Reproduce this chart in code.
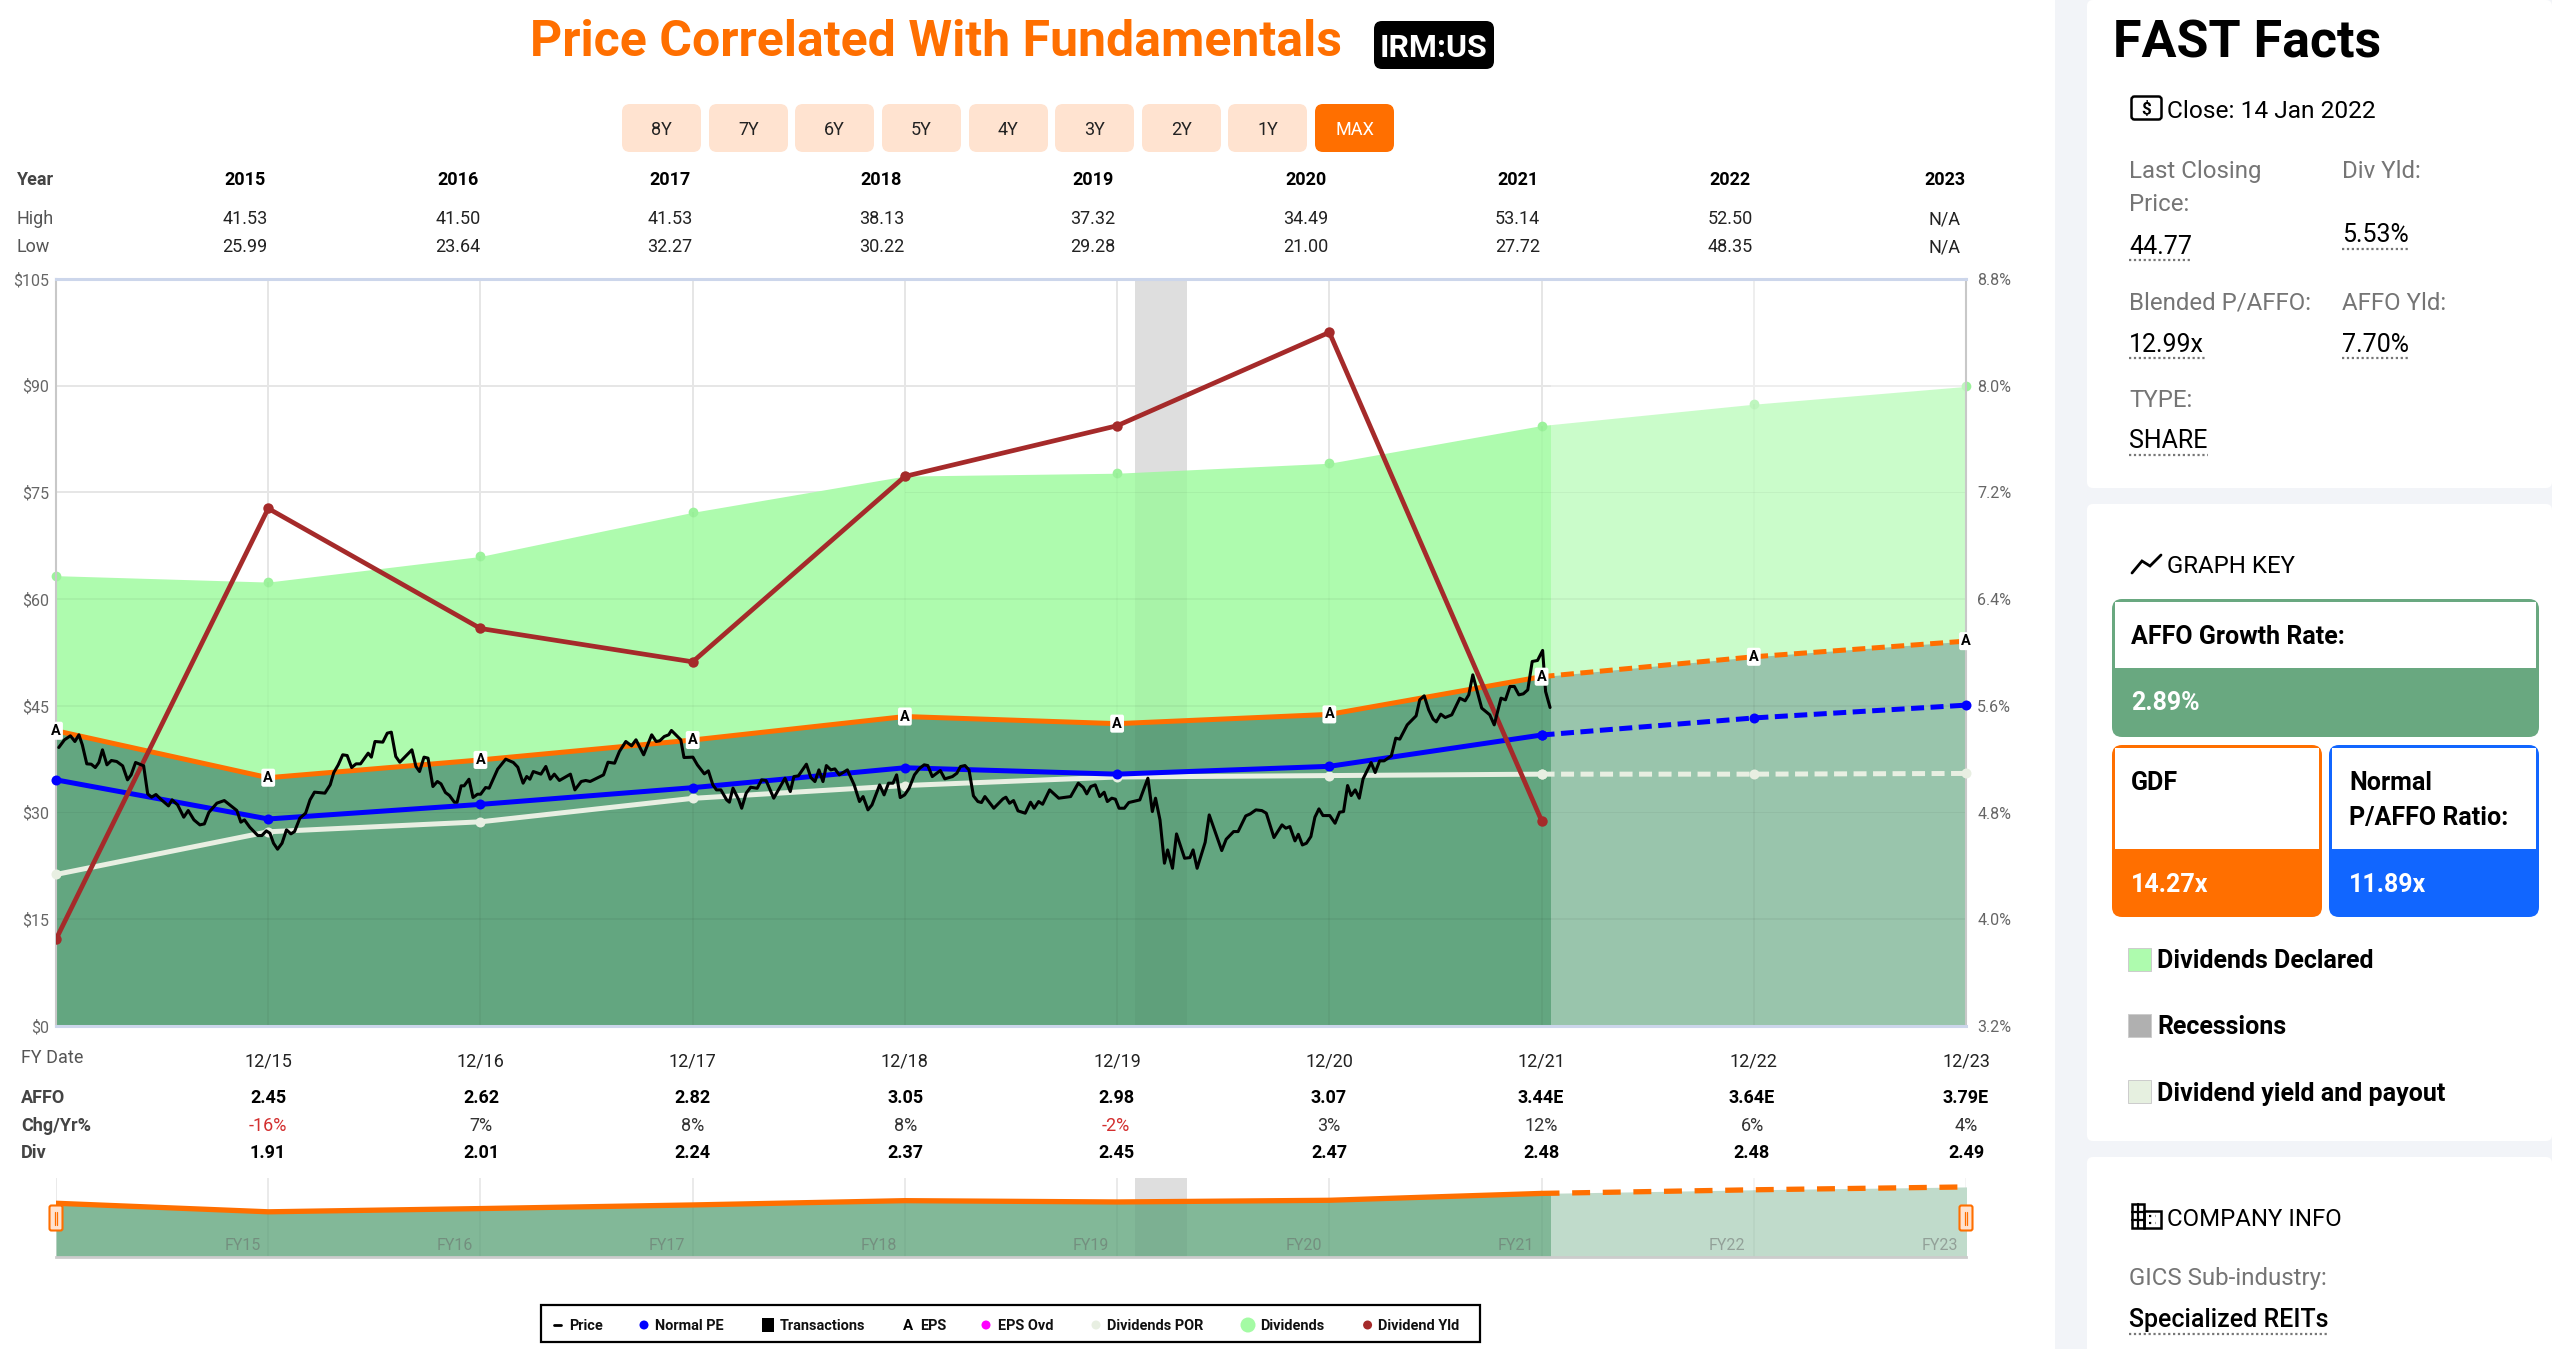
import matplotlib
matplotlib.use("Agg")
import matplotlib.pyplot as plt
from matplotlib.patches import Rectangle, FancyBboxPatch, Circle
import numpy as np, pandas as pd, seaborn as sns

# ---------- data ----------
years = ['2015','2016','2017','2018','2019','2020','2021','2022','2023']
highs = ['41.53','41.50','41.53','38.13','37.32','34.49','53.14','52.50','N/A']
lows  = ['25.99','23.64','32.27','30.22','29.28','21.00','27.72','48.35','N/A']
ranges = ['8Y','7Y','6Y','5Y','4Y','3Y','2Y','1Y','MAX']
fy_dates = ['12/15','12/16','12/17','12/18','12/19','12/20','12/21','12/22','12/23']
affo_txt = ['2.45','2.62','2.82','3.05','2.98','3.07','3.44E','3.64E','3.79E']
chg_txt  = ['-16%','7%','8%','8%','-2%','3%','12%','6%','4%']
div_txt  = ['1.91','2.01','2.24','2.37','2.45','2.47','2.48','2.48','2.49']
fy_short = ['FY15','FY16','FY17','FY18','FY19','FY20','FY21','FY22','FY23']

fy_t = [0,1,2,3,4,5,6,7,8,9]
dividends = [63.3,62.4,66.0,72.2,77.3,77.7,79.1,84.4,87.4,89.9]
gdf_line  = [41.5,34.9,37.4,40.2,43.5,42.5,43.8,49.1,51.9,54.1]
normal    = [34.6,29.1,31.15,33.5,36.3,35.4,36.5,40.9,43.3,45.1]
por       = [21.3,27.3,28.7,32.0,33.8,35.0,35.2,35.4,35.4,35.5]
yield_t   = [0,1,2,3,4,5,6,7]
div_yield = [3.85,7.08,6.18,5.93,7.32,7.70,8.40,4.74]
close_t = 7.045
last_actual_t = 7
recession = (5.085, 5.33)

price_t = [.013,.040,.068,.089,.108,.124,.145,.166,.185,.202,.219,.240,.261,.286,.314,.337,.354,.375,.413,.432,.450,.471,.497,.530,.547,.573,.602,.623,.650,.678,.699,.720,.758,.793,.819,.852,.871,.888,.913,.951,.970,.991,
1.008,1.025,1.044,1.065,1.086,1.107,1.124,1.149,1.176,1.197,1.218,1.267,1.292,1.309,1.330,1.351,1.372,1.393,1.414,1.435,1.471,1.486,1.503,1.540,1.561,1.580,1.601,1.620,1.677,1.696,1.713,1.734,1.753,1.776,1.797,1.814,1.835,1.854,1.877,1.890,1.909,1.923,1.946,1.965,1.986,
2.001,2.024,2.041,2.081,2.119,2.155,2.176,2.201,2.218,2.233,2.249,2.285,2.308,2.329,2.348,2.372,2.424,2.445,2.475,2.496,2.517,2.580,2.601,2.632,2.655,2.685,2.712,2.733,2.769,2.807,2.828,2.845,2.866,2.887,2.900,2.944,2.959,
3.001,3.022,3.055,3.074,3.095,3.112,3.133,3.160,3.173,3.190,3.217,3.231,3.252,3.273,3.304,3.325,3.346,3.382,3.435,3.460,3.477,3.498,3.536,3.557,3.576,3.595,3.614,3.630,3.651,3.670,3.691,3.729,3.761,3.786,3.803,3.826,3.845,3.881,3.902,3.923,3.944,3.961,3.978,3.999,
4.020,4.045,4.070,4.091,4.108,4.129,4.167,4.188,4.224,4.245,4.262,4.283,4.302,4.323,4.344,4.361,4.377,4.419,4.462,4.476,4.493,4.512,4.533,4.567,4.592,4.609,4.630,4.649,4.682,4.725,4.781,4.817,4.840,4.857,4.876,4.897,4.918,4.939,4.954,4.975,4.992,
5.009,5.034,5.055,5.107,5.145,5.166,5.181,5.202,5.223,5.238,5.261,5.280,5.318,5.343,5.358,5.377,5.415,5.434,5.493,5.514,5.549,5.570,5.606,5.627,5.654,5.682,5.703,5.739,5.777,5.795,5.814,5.838,5.854,5.873,5.892,5.913,5.932,5.951,5.970,
6.002,6.027,6.048,6.067,6.086,6.103,6.122,6.141,6.159,6.197,6.216,6.237,6.258,6.292,6.313,6.332,6.367,6.409,6.426,6.447,6.468,6.489,6.504,6.525,6.546,6.577,6.615,6.640,6.657,6.676,6.697,6.718,6.756,6.777,6.809,6.830,6.851,6.872,6.893,6.914,6.935,6.956,6.981,7.005,7.019,7.040]
price_v = [39.15,40.23,40.79,39.99,40.93,39.52,36.85,36.80,36.33,37.04,38.82,36.71,37.32,37.18,36.57,34.60,35.30,37.04,36.57,32.63,32.16,32.54,31.79,30.94,31.79,31.08,29.35,30.29,28.97,28.27,28.41,30.01,31.32,31.69,31.08,30.29,28.65,28.97,27.94,26.77,26.77,27.43,
27.10,25.69,24.85,25.69,27.57,27.01,27.33,29.21,29.91,31.79,32.87,32.73,33.90,35.63,36.71,38.12,38.02,36.33,36.85,36.85,38.35,37.79,39.99,39.90,41.16,41.30,37.88,37.08,38.82,36.48,35.77,37.79,37.65,33.66,34.37,34.04,32.82,32.40,31.46,31.46,33.76,33.76,34.69,32.12,32.58,
32.58,33.52,33.43,36.10,37.51,37.04,36.38,34.13,35.07,34.69,35.77,35.40,36.48,34.69,35.40,34.51,35.40,33.19,34.37,34.51,34.37,35.30,37.08,36.94,38.59,39.99,39.38,40.23,38.12,40.93,39.99,40.09,40.69,40.93,41.54,40.23,37.74,
37.79,36.71,35.44,35.87,33.90,33.19,33.19,31.79,31.46,33.43,31.79,30.61,32.72,33.56,33.42,34.60,34.50,32.02,34.83,32.96,35.06,35.16,36.80,34.92,34.36,36.00,34.36,36.61,36.00,36.14,35.30,36.00,33.89,31.55,32.25,30.38,31.08,33.89,32.49,34.13,34.13,35.30,32.11,32.49,
33.42,35.30,36.24,36.71,36.61,35.06,35.91,34.74,35.06,35.53,36.47,36.61,36.00,32.35,31.55,31.41,32.25,30.61,31.92,32.16,31.31,31.69,30.24,29.91,31.46,30.61,31.55,31.17,33.19,32.02,32.25,34.13,33.56,32.63,33.66,33.89,32.25,32.86,31.55,32.02,31.88,
30.61,30.61,31.41,31.78,34.83,30.14,32.02,28.97,22.88,24.75,22.17,27.00,23.58,23.67,24.75,22.17,25.83,29.67,24.66,26.25,27.33,27.33,29.53,29.81,30.38,30.28,29.91,26.49,28.27,27.80,28.03,26.02,26.95,25.45,25.69,26.63,29.35,30.52,29.58,
29.58,28.50,30.05,30.14,33.80,32.39,33.19,32.02,34.74,37.03,35.63,37.27,37.27,37.97,40.46,40.32,42.33,43.60,45.85,46.41,44.44,43.13,42.75,43.83,43.36,43.74,46.08,45.71,46.55,49.36,47.02,44.68,43.74,42.33,46.08,45.85,47.72,47.72,46.55,46.69,47.25,51.24,51.38,52.79,47.02,44.77]

usd_ticks = [0,15,30,45,60,75,90,105]
pct_ticks = [3.2,4.0,4.8,5.6,6.4,7.2,8.0,8.8]

legend_items = ['Price','Normal PE','Transactions','EPS','EPS Ovd','Dividends POR','Dividends','Dividend Yld']

# ---------- style ----------
ORANGE='#FF6F00'; BLUE='#0000FF'; PALE='#E8EFE2'; BROWN='#A52A2A'
LGREEN='#AEFBAE'; DGREEN='#63A680'; AXC='#CCD6EB'; SBLUE='#1166FF'; KGREEN='#69A880'; PANEL='#F2F4F8'
sns.set_theme(style='white')
plt.rcParams['font.family'] = ['Roboto','DejaVu Sans']
W,H = 2552,1349
PT = 0.72
fig = plt.figure(figsize=(W/100,H/100),dpi=100,facecolor='white')

def axpx(l,t,r,b,**k):
    return fig.add_axes([l/W,1-b/H,(r-l)/W,(b-t)/H],**k)

pg = fig.add_axes([0,0,1,1],zorder=0); pg.set_xlim(0,W); pg.set_ylim(H,0); pg.axis('off')

def T(x,y,s,px,weight='normal',color='black',ha='left',tgt=None,**k):
    return (tgt or pg).text(x,y,s,fontsize=px*PT,fontweight=weight,color=color,ha=ha,va='center_baseline',**k)
def R(x0,y0,x1,y1,fc,ec='none',lw=0,rad=0,**k):
    if rad:
        p=FancyBboxPatch((x0+rad,y0+rad),x1-x0-2*rad,y1-y0-2*rad,boxstyle=f'round,pad={rad},rounding_size={rad}',fc=fc,ec=ec,lw=lw,**k)
    else:
        p=Rectangle((x0,y0),x1-x0,y1-y0,fc=fc,ec=ec,lw=lw,**k)
    pg.add_patch(p); return p
def dotted(x0,x1,y):
    pg.plot([x0,x1],[y,y],color='#777777',lw=1.6,ls=(0,(1,1.2)),dash_capstyle='butt')

# ---------- header ----------
T(936,38,'Price Correlated With Fundamentals',50,'bold',ORANGE,ha='center')
R(1374,21,1494,69,'black',rad=8)
T(1434,45,'IRM:US',32,'bold','white',ha='center')
btn_x = [622,709,795,882,969,1055,1142,1228,1315]
for x,lab in zip(btn_x,ranges):
    act = lab=='MAX'
    R(x,104,x+79,152,ORANGE if act else '#FFE3D0',rad=8)
    T(x+39.5,128,lab,18,color='white' if act else '#222222',ha='center')
col_top = [245,458,670,881.5,1093,1306,1517.5,1730,1945]
T(17,178,'Year',18,'bold','#444444'); T(17,217,'High',18,color='#555555'); T(17,245,'Low',18,color='#555555')
for x,y,h,l in zip(col_top,years,highs,lows):
    T(x,178,y,18,'bold',ha='center'); T(x,217,h,18,color='#222222',ha='center'); T(x,245,l,18,color='#222222',ha='center')

# ---------- main chart ----------
ax = axpx(56,279,1966,1026,zorder=2)
ax.set_facecolor('none')
ax.set_xlim(0,9); ax.set_ylim(0,105)
ax.axvspan(*recession,color='#E6E6E6',lw=0,zorder=.9)
ax.fill_between(fy_t,dividends,color=LGREEN,lw=0,zorder=1)
ax.fill_between(fy_t,gdf_line,color=DGREEN,lw=0,zorder=1.1)
ax.axvspan(close_t,9,color='white',alpha=.35,lw=0,zorder=1.2)
ax.fill_between(recession,[105,105],color='black',alpha=.03,lw=0,zorder=1.3)
ax.set_yticks(usd_ticks); ax.set_yticklabels([f'${v}' for v in usd_ticks])
ax.set_xticks(fy_t); ax.set_xticklabels(['']+fy_dates)
ax.grid(True,color='#E6E6E6',lw=1.4)
for gl in ax.get_xgridlines()+ax.get_ygridlines(): gl.set_zorder(.8)
ax.set_axisbelow(True)
ax.vlines(fy_t[1:-1],0,gdf_line[1:-1],color='black',alpha=.04,lw=1.4,zorder=1.4)
ax.vlines(fy_t[1:-1],gdf_line[1:-1],dividends[1:-1],color='black',alpha=.02,lw=1.4,zorder=1.4)
for v in usd_ticks[1:-1]:
    ax.fill_between(fy_t,v-.12,v+.12,where=[d>=v for d in dividends],interpolate=True,color='black',alpha=.045,lw=0,zorder=1.4)
ax.tick_params(axis='y',length=0,pad=5,labelsize=16*PT,labelcolor='#666666')
ax.tick_params(axis='x',length=11,width=1.5,color=AXC,pad=8,labelsize=18*PT,labelcolor='#222222')
for s,c,lw in [('top',AXC,2.2),('bottom',AXC,2.2),('left','#C8C8C8',1.5),('right','#C8C8C8',1.5)]:
    ax.spines[s].set_color(c); ax.spines[s].set_linewidth(lw); ax.spines[s].set_visible(True)

df = pd.DataFrame({'t':fy_t,'div':dividends,'gdf':gdf_line,'normal':normal,'por':por})
hist = df[df.t<=last_actual_t]; fut = df[df.t>=last_actual_t]
LINE = dict(estimator=None,errorbar=None,sort=False,legend=False)
sns.lineplot(data=df,x='t',y='div',ax=ax,lw=0,marker='o',ms=7,color='#9CF29C',mew=0,zorder=1.15,**LINE)
def seg(col,color,z,ms=7.2):
    sns.lineplot(data=hist,x='t',y=col,ax=ax,color=color,lw=3.6,marker='o',ms=ms,mew=0,zorder=z,**LINE)
    sns.lineplot(data=fut,x='t',y=col,ax=ax,color=color,lw=3.6,marker='o',ms=ms,mew=0,zorder=z,
                 linestyle=(0,(2.6,1.3)),dash_capstyle='butt',**LINE)
seg('por',PALE,3); seg('normal',BLUE,3.1); seg('gdf',ORANGE,3.2,ms=0)
for l in ax.lines: l.set_clip_on(False)
ax.set_xlabel(''); ax.set_ylabel('')

ax2 = ax.twinx(); ax2.set_zorder(3); ax2.set_facecolor('none')
ax2.set_ylim(3.2,8.8); ax2.set_yticks(pct_ticks); ax2.set_yticklabels([f'{v:.1f}%' for v in pct_ticks])
ax2.tick_params(axis='y',length=0,pad=8,labelsize=16*PT,labelcolor='#666666')
ydf = pd.DataFrame({'t':yield_t,'y':div_yield})
sns.lineplot(data=ydf,x='t',y='y',ax=ax2,color=BROWN,lw=3.4,marker='o',ms=7.5,mew=0,**LINE)
ax2.set_ylabel(''); ax2.grid(False)
for s in ax2.spines.values(): s.set_visible(False)

ax3 = ax.twinx(); ax3.set_zorder(4); ax3.set_facecolor('none')
ax3.set_ylim(0,105); ax3.set_yticks([]); ax3.grid(False); ax3.set_ylabel('')
for s in ax3.spines.values(): s.set_visible(False)
pdf = pd.DataFrame({'t':price_t,'v':price_v})
sns.lineplot(data=pdf,x='t',y='v',ax=ax3,color='black',lw=2.2,**LINE)
ax3.set_ylabel('')
for t,v in zip(fy_t,gdf_line):
    ax3.text(t,v,'A',fontsize=14.5*PT,fontweight='bold',color='black',ha='center',va='center',clip_on=False,
             bbox=dict(boxstyle='round,pad=0.14',fc='white',ec='none'))

# ---------- rows below chart ----------
col_x = [268,481,692.5,905.5,1116,1329,1541,1752,1966]
T(21,1056,'FY Date',18,color='#555555')
T(21,1096,'AFFO',18,'bold','#444444'); T(21,1124,'Chg/Yr%',18,'bold','#444444'); T(21,1151,'Div',18,'bold','#444444')
for x,a,c,d in zip(col_x,affo_txt,chg_txt,div_txt):
    T(x,1096,a,18,'bold',ha='center')
    T(x,1124,c,18,color='#D32F2F' if c.startswith('-') else '#333333',ha='center')
    T(x,1151,d,18,'bold',ha='center')

# ---------- navigator ----------
nav = axpx(56,1178,1966,1257,zorder=2)
nav.set_facecolor('none'); nav.set_xlim(0,9); nav.set_ylim(0,61)
nav.axvspan(*recession,color='#E8E8E8',lw=0,zorder=.9)
nav.fill_between(fy_t,gdf_line,color='#82B898',lw=0,zorder=1)
nav.axvspan(close_t,9,color='white',alpha=.5,lw=0,zorder=1.2)
nav.fill_between(recession,[61,61],color='black',alpha=.04,lw=0,zorder=1.3)
nav.set_xticks(fy_t); nav.set_xticklabels([]); nav.set_yticks([])
nav.grid(True,axis='x',color='#E6E6E6',lw=1.2)
for gl in nav.get_xgridlines(): gl.set_zorder(.8)
nav.set_axisbelow(True)
nav.vlines(fy_t[1:-1],0,gdf_line[1:-1],color='black',alpha=.04,lw=1.2,zorder=1.4)
nav.tick_params(axis='x',length=11,width=1.5,color=AXC)
for s in ['top','left','right']: nav.spines[s].set_visible(False)
nav.spines['bottom'].set_visible(True); nav.spines['bottom'].set_color('#CCCCCC'); nav.spines['bottom'].set_linewidth(2)
sns.lineplot(data=hist,x='t',y='gdf',ax=nav,color=ORANGE,lw=3.8,zorder=3,**LINE)
sns.lineplot(data=fut,x='t',y='gdf',ax=nav,color=ORANGE,lw=3.8,zorder=3,linestyle=(0,(3.4,2.4)),dash_capstyle='butt',**LINE)
nav.set_xlabel(''); nav.set_ylabel('')
hx = fig.add_axes([0,0,1,1],zorder=6); hx.set_xlim(0,W); hx.set_ylim(H,0); hx.axis('off'); hx.patch.set_alpha(0)
for x,l in zip([242.5,455,667,879,1091,1304,1515.5,1727,1940],fy_short):
    T(x,1244,l,16,color='#666666',ha='center',alpha=.5,tgt=hx)
for x in (56,1966):
    hx.add_patch(FancyBboxPatch((x-5,1207),10,22,boxstyle='round,pad=1.5,rounding_size=2',fc='#FFE3D0',ec=ORANGE,lw=1.5))
    hx.plot([x-1.3,x-1.3],[1212,1225],color=ORANGE,lw=.9); hx.plot([x+1.3,x+1.3],[1212,1225],color=ORANGE,lw=.9)

# ---------- bottom legend ----------
R(541,1305,1480,1342,'white',ec='black',lw=1.6)
leg_x = [569,655,780,920,998,1107,1260.5,1378.5]
for x,l in zip(leg_x,legend_items):
    T(x,1324,l,14.5,'bold',color='#111111')
pg.plot([554,561],[1325,1325],color='black',lw=2)
pg.add_patch(Circle((644,1325),4.5,fc=BLUE,ec='none'))
R(762,1318,774,1332,'black')
T(908,1324,'A',15,'bold',ha='center')
pg.add_patch(Circle((986,1325),4.5,fc='#FF00FF',ec='none'))
pg.add_patch(Circle((1096,1325),4.5,fc=PALE,ec='none'))
pg.add_patch(Circle((1248,1325),7.5,fc='#A4FBA4',ec='none'))
pg.add_patch(Circle((1367.6,1325),4.5,fc=BROWN,ec='none'))

# ---------- sidebar ----------
R(2055,0,W,H,PANEL)
R(2087,0,W,488,'white',rad=6); R(2087,504,W,1141,'white',rad=6); R(2087,1157,W,H+20,'white',rad=6)
T(2113,38,'FAST Facts',52,'bold')
R(2131.5,96.5,2161.5,119.5,'none',ec='black',lw=1.8,rad=3)
T(2146.5,108,'$',17,'bold',ha='center')
T(2167,109,'Close: 14 Jan 2022',24.5)
G='#757575'
T(2129,169,'Last Closing',24,color=G); T(2129,202,'Price:',24,color=G); T(2342,169,'Div Yld:',24,color=G)
T(2129,244,'44.77',25); dotted(2129,2192,260)
T(2342,233,'5.53%',25); dotted(2342,2410,249)
T(2129,300.5,'Blended P/AFFO:',24,color=G); T(2342,300.5,'AFFO Yld:',24,color=G)
T(2129,342,'12.99x',25); dotted(2129,2205,358)
T(2342,342,'7.70%',25); dotted(2342,2410,358)
T(2129,398,'TYPE:',24,color=G); T(2129,439,'SHARE',25); dotted(2129,2208,455)
pg.plot([2132,2142,2150,2161],[573,561,566,555],color='black',lw=2,solid_joinstyle='miter')
T(2167,564,'GRAPH KEY',24)

R(2112,599,2539,737,KGREEN,rad=10); R(2115,602,2536,668,'white')
T(2131,635,'AFFO Growth Rate:',25,'bold'); T(2131,701,'2.89%',25,'bold','white')
R(2112,745,2322,917,ORANGE,rad=10); R(2115,748,2319,849,'white')
T(2131,781,'GDF',25,'bold'); T(2131,882,'14.27x',25,'bold','white')
R(2329,745,2539,917,SBLUE,rad=10); R(2332,748,2536,849,'white')
T(2349,781,'Normal',25,'bold'); T(2349,816,'P/AFFO Ratio:',25,'bold'); T(2349,882,'11.89x',25,'bold','white')
for y,c,l in [(959,LGREEN,'Dividends Declared'),(1025,'#B0B0B0','Recessions'),(1091,'#E6F0E0','Dividend yield and payout')]:
    R(2128,y-11.5,2151,y+11.5,c,ec='#CCCCCC',lw=.7)
    T(2157,y,l,25,'bold')
R(2132,1204,2144,1228,'none',ec='black',lw=1.8); R(2144,1211,2161,1228,'none',ec='black',lw=1.8)
for yy in (1212,1220): pg.plot([2132,2144],[yy,yy],color='black',lw=1.6)
pg.plot([2138,2138],[1204,1228],color='black',lw=1.6)
for yy in (1216,1223): pg.plot([2149,2156],[yy,yy],color='black',lw=1.6,ls=(0,(1,2)))
T(2167,1217,'COMPANY INFO',24)
T(2129,1276,'GICS Sub-industry:',24,color=G)
T(2129,1317,'Specialized REITs',25,500); dotted(2129,2327,1334)

fig.savefig('out.png',dpi=100,facecolor='white')
